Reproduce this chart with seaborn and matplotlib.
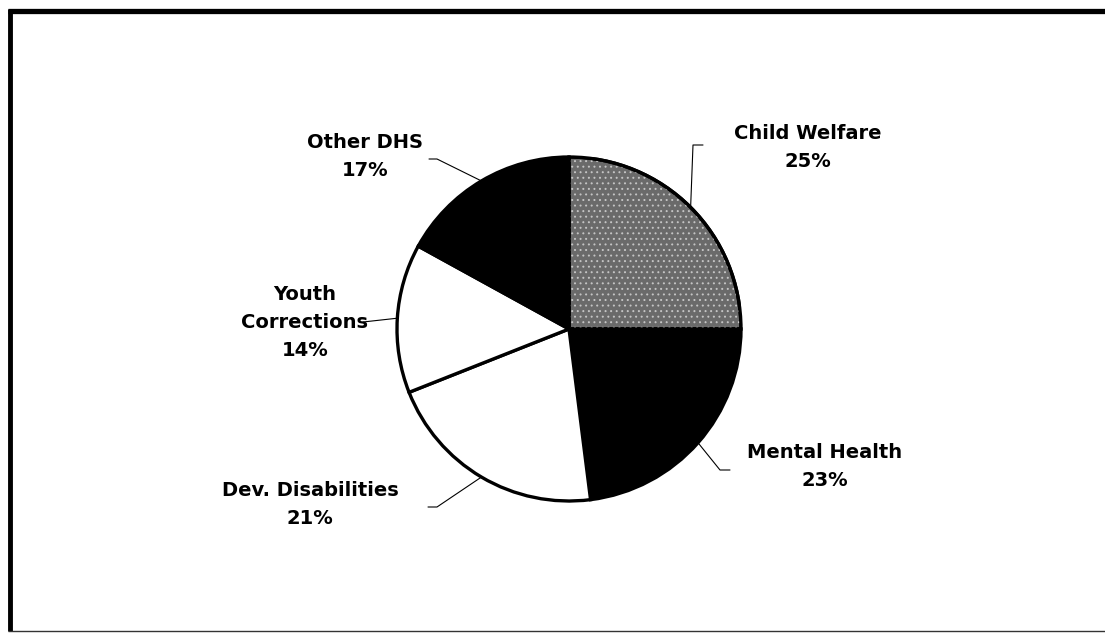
import matplotlib
matplotlib.use("Agg")
import matplotlib.pyplot as plt
import seaborn as sns
import numpy as np
from matplotlib.lines import Line2D
from matplotlib.patches import Wedge

categories = ["Child Welfare", "Mental Health", "Dev. Disabilities", "Youth Corrections", "Other DHS"]
label_text = ["Child Welfare\n25%", "Mental Health\n23%", "Dev. Disabilities\n21%", "Youth\nCorrections\n14%", "Other DHS\n17%"]
shares = [25, 23, 21, 14, 17]

sns.set_theme(style="white")
plt.rcParams['font.family'] = ['DejaVu Sans']
plt.rcParams['hatch.linewidth'] = 0.7

W, H = 1105, 633
fig = plt.figure(figsize=(W / 100, H / 100), dpi=100)
fig.patch.set_facecolor("white")

cx, cy, r = 569, 329, 172
ax = fig.add_axes([(cx - r) / W, (H - cy - r) / H, 2 * r / W, 2 * r / H])
ax.axis("off")

fills = ["#6a6a6a", "black", "white", "white", "black"]
wedges, _ = ax.pie(shares, colors=fills, startangle=90, counterclock=False, radius=1,
                   wedgeprops=dict(edgecolor="black", linewidth=2.4))
# speckled texture on the Child Welfare slice
w0 = wedges[0]
tex = Wedge(w0.center, w0.r, w0.theta1, w0.theta2, facecolor="none", edgecolor="#c4c4c4",
            hatch="...", lw=0, zorder=w0.get_zorder() + 0.1)
ax.add_patch(tex)
outline = Wedge(w0.center, w0.r, w0.theta1, w0.theta2, facecolor="none", edgecolor="black",
                lw=2.4, zorder=w0.get_zorder() + 0.2)
ax.add_patch(outline)
ax.set_xlim(-1, 1)
ax.set_ylim(-1, 1)
ax.set_aspect("equal")

def d(px, py):
    return (px - cx) / r, (cy - py) / r

# label layout (pixel positions of text centres and leader elbows)
text_pos = [(808, 148), (825, 467), (310, 505), (305, 322), (365, 157)]
elbows = [[(693, 145), (703, 145)], [(720, 470), (730, 470)], [(437, 507), (428, 507)],
          [(363, 322)], [(437, 159), (429, 159)]]

cum = np.cumsum([0] + shares)
for i, (txt, tp) in enumerate(zip(label_text, text_pos)):
    mid = np.deg2rad(90 - (cum[i] + shares[i] / 2) / sum(shares) * 360)
    pts = [(np.cos(mid), np.sin(mid))] + [d(*p) for p in elbows[i]]
    xs, ys = zip(*pts)
    ax.plot(xs, ys, color="black", lw=0.8, clip_on=False)
    tx, ty = d(*tp)
    ax.text(tx, ty, txt, ha="center", va="center", fontsize=14, fontweight="bold",
            color="black", linespacing=1.6, clip_on=False)

# frame
fig.add_artist(Line2D([10 / W, 10 / W], [1 - 9 / H, 1 - 631 / H], color="black", lw=3.5,
                      solid_capstyle="butt", transform=fig.transFigure))
fig.add_artist(Line2D([8 / W, 1.0], [1 - 10.5 / H, 1 - 10.5 / H], color="black", lw=3.8,
                      solid_capstyle="butt", transform=fig.transFigure))
fig.add_artist(Line2D([8 / W, 1.0], [1 - 631 / H, 1 - 631 / H], color="#333333", lw=1.0,
                      solid_capstyle="butt", transform=fig.transFigure))

fig.savefig("out.png", dpi=100, facecolor="white")
